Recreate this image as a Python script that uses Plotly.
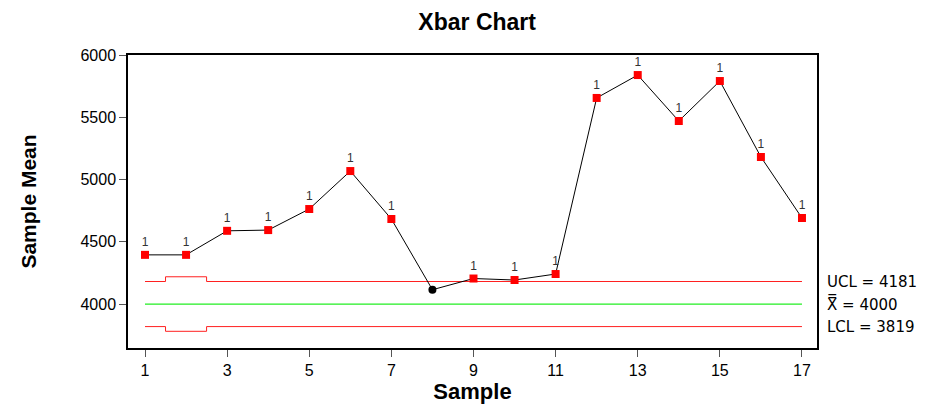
import plotly.graph_objects as go

samples = list(range(1, 18))
means = [4395, 4395, 4588, 4594, 4763, 5068, 4683, 4115, 4205, 4193, 4241,
         5655, 5839, 5470, 5791, 5181, 4691]
flags = ["1", "1", "1", "1", "1", "1", "1", "", "1", "1", "1",
         "1", "1", "1", "1", "1", "1"]
ucl_x = [1, 1.5, 1.5, 2.5, 2.5, 17]
ucl_y = [4181, 4181, 4219, 4219, 4181, 4181]
lcl_y = [3819, 3819, 3781, 3781, 3819, 3819]
center = 4000
xticks = [1, 3, 5, 7, 9, 11, 13, 15, 17]
yticks = [4000, 4500, 5000, 5500, 6000]

fig = go.Figure()
fig.add_trace(go.Scatter(x=ucl_x, y=ucl_y, mode="lines",
                         line=dict(color="#ff2020", width=1), hoverinfo="skip"))
fig.add_trace(go.Scatter(x=ucl_x, y=lcl_y, mode="lines",
                         line=dict(color="#ff2020", width=1), hoverinfo="skip"))
fig.add_trace(go.Scatter(x=[1, 17], y=[center, center], mode="lines",
                         line=dict(color="#22ee22", width=1.3), hoverinfo="skip"))
fig.add_trace(go.Scatter(x=samples, y=means, mode="lines",
                         line=dict(color="black", width=1)))
red_x = [s for s, f in zip(samples, flags) if f]
red_y = [m for m, f in zip(means, flags) if f]
red_t = [f for f in flags if f]
fig.add_trace(go.Scatter(x=red_x, y=red_y, mode="markers+text",
                         marker=dict(symbol="square", color="red", size=8),
                         text=red_t, textposition="top center",
                         textfont=dict(size=12, color="#333333", family="Liberation Sans")))
blk_x = [s for s, f in zip(samples, flags) if not f]
blk_y = [m for m, f in zip(means, flags) if not f]
fig.add_trace(go.Scatter(x=blk_x, y=blk_y, mode="markers",
                         marker=dict(symbol="circle", color="black", size=8)))

lab_font = dict(family="DejaVu Sans", size=15, color="black")
fig.add_annotation(xref="paper", yref="y", x=1.012, y=4181, text="UCL = 4181",
                   showarrow=False, xanchor="left", font=lab_font)
fig.add_annotation(xref="paper", yref="y", x=1.012, y=4000, text="X\u033f = 4000",
                   showarrow=False, xanchor="left", font=lab_font)
fig.add_annotation(xref="paper", yref="y", x=1.012, y=3819, text="LCL = 3819",
                   showarrow=False, xanchor="left", font=lab_font)

fig.update_layout(
    width=944, height=403,
    margin=dict(l=120, r=135, t=47, b=63),
    paper_bgcolor="white", plot_bgcolor="white",
    showlegend=False,
    title=dict(text="<b>Xbar Chart</b>", x=0.497, xanchor="center", y=0.965, yanchor="middle",
               font=dict(family="Liberation Sans", size=23, color="black")),
)
fig.update_xaxes(range=[0.586, 17.366], tickvals=xticks, ticktext=[str(v) for v in xticks],
                 ticks="outside", ticklen=7, tickcolor="#555", showgrid=False, zeroline=False,
                 showline=True, linecolor="black", linewidth=1.5, mirror=True,
                 tickfont=dict(family="Liberation Sans", size=16, color="black"),
                 title=dict(text="<b>Sample</b>", standoff=6,
                            font=dict(family="Liberation Sans", size=22, color="black")))
fig.update_yaxes(range=[3647, 6000], tickvals=yticks, ticktext=[str(v) for v in yticks],
                 ticks="outside", ticklen=7, tickcolor="#555", showgrid=False, zeroline=False,
                 showline=True, linecolor="black", linewidth=1.5, mirror=True,
                 tickfont=dict(family="Liberation Sans", size=16, color="black"),
                 title=dict(text="<b>Sample Mean</b>", standoff=38,
                            font=dict(family="Liberation Sans", size=21, color="black")))

fig.write_html("out.html")
